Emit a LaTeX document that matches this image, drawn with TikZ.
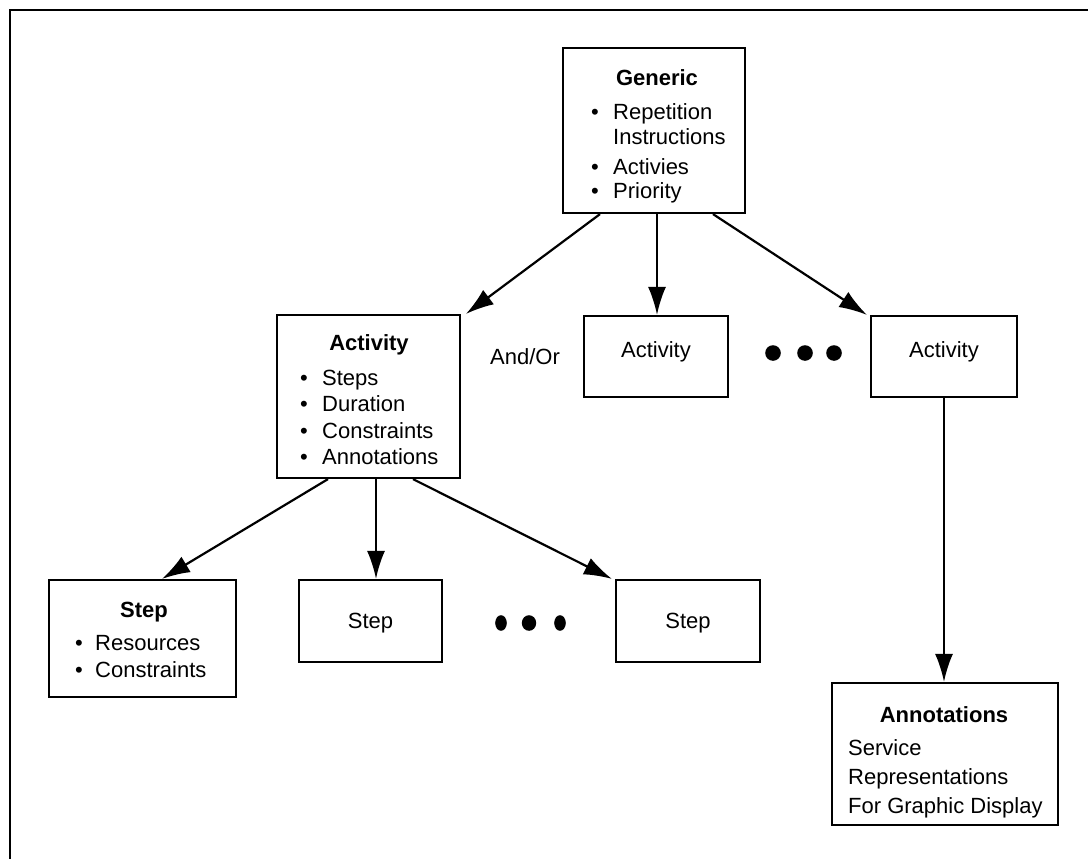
\documentclass[tikz,border=0pt]{standalone}
\usepackage{fontspec}
\setmainfont{Liberation Sans}
\usetikzlibrary{arrows.meta}
\begin{document}
\begin{tikzpicture}[x=1pt,y=-1pt,
  box/.style={draw,line width=2.2pt,inner sep=0pt},
  lbl/.style={inner sep=0pt,anchor=base west,font=\fontsize{22}{26}\selectfont},
  bul/.style={inner sep=0pt,anchor=base,font=\fontsize{22}{26}\selectfont},
  ttl/.style={inner sep=0pt,anchor=base,font=\fontsize{22}{26}\selectfont\bfseries},
  ctr/.style={inner sep=0pt,anchor=center,font=\fontsize{22}{26}\selectfont},
  arr/.style={line width=2.2pt,-{Latex[length=28pt,width=18pt]}},
  frame/.style={line width=2.8pt}
]
\useasboundingbox (0,0) rectangle (1088,859);
\fill[white] (0,0) rectangle (1088,859);
% frame (top and left only visible)
\coordinate (fa) at (10,859);
\coordinate (fb) at (10,10);
\coordinate (fc) at (1088,10);
\draw[frame] (fa) -- (fb) -- (fc);

% boxes
\node[box,minimum width=182pt,minimum height=165pt] (gen) at (654,130.5) {};
\node[box,minimum width=183pt,minimum height=163pt] (act1) at (368.5,396.5) {};
\node[box,minimum width=144pt,minimum height=81pt] (act2) at (656,356.5) {};
\node[box,minimum width=146pt,minimum height=81pt] (act3) at (944,356.5) {};
\node[box,minimum width=187pt,minimum height=117pt] (step1) at (142.5,638.5) {};
\node[box,minimum width=143pt,minimum height=82pt] (step2) at (370.5,621) {};
\node[box,minimum width=144pt,minimum height=82pt] (step3) at (688,621) {};
\node[box,minimum width=226pt,minimum height=142pt] (ann) at (945,754) {};

% Generic text
\node[ttl] (gt) at (657,85) {Generic};
\node[bul] (gb1) at (595,120) {\textbullet};
\node[lbl] (gl1) at (613,120) {Repetition};
\node[lbl] (gl2) at (613,144) {Instructions};
\node[bul] (gb3) at (595,174) {\textbullet};
\node[lbl] (gl3) at (613,174) {Activies};
\node[bul] (gb4) at (595,198) {\textbullet};
\node[lbl] (gl4) at (613,198) {Priority};

% Activity text
\node[ttl] (at) at (369,350) {Activity};
\node[bul] (ab1) at (304,385) {\textbullet};
\node[lbl] (al1) at (322,385) {Steps};
\node[bul] (ab2) at (304,411) {\textbullet};
\node[lbl] (al2) at (322,411) {Duration};
\node[bul] (ab3) at (304,438) {\textbullet};
\node[lbl] (al3) at (322,438) {Constraints};
\node[bul] (ab4) at (304,464) {\textbullet};
\node[lbl] (al4) at (322,464) {Annotations};

\node[ctr] (a2t) at (656,352) {Activity};
\node[ctr] (a3t) at (944,352) {Activity};
\node[lbl] (andor) at (490,364) {And/Or};

% Step text
\node[ttl] (st) at (144,617) {Step};
\node[bul] (sb1) at (79,650) {\textbullet};
\node[lbl] (sl1) at (95,650) {Resources};
\node[bul] (sb2) at (79,677) {\textbullet};
\node[lbl] (sl2) at (95,677) {Constraints};
\node[ctr] (s2t) at (370.5,623) {Step};
\node[ctr] (s3t) at (688,623) {Step};

% Annotations text
\node[ttl] (ant) at (944,722) {Annotations};
\node[lbl] (anl1) at (848,755) {Service};
\node[lbl] (anl2) at (848,784) {Representations};
\node[lbl] (anl3) at (848,813) {For Graphic Display};

% dots
\fill (773,353) circle (7.8pt);
\fill (805,353) circle (7.8pt);
\fill (834,353) circle (7.8pt);
\fill (501,623) ellipse (5.8pt and 7.8pt);
\fill (529,623) ellipse (7.2pt and 7.8pt);
\fill (560,623) ellipse (5.8pt and 7.8pt);

% arrows
\draw[arr] ([xshift=-54pt]gen.south) -- ([xshift=97.5pt]act1.north);
\draw[arr] ([xshift=3pt]gen.south) -- ([xshift=3pt]gen.south |- act2.north);
\draw[arr] ([xshift=59pt]gen.south) -- ([xshift=-3pt]act3.north west);
\draw[arr] (act3.south) -- (act3.south |- ann.north);
\draw[arr] ([xshift=-40.5pt]act1.south) -- ([xshift=19.5pt]step1.north);
\draw[arr] ([xshift=7.5pt]act1.south) -- ([xshift=7.5pt]act1.south |- step2.north);
\draw[arr] ([xshift=44.5pt]act1.south) -- ([xshift=-3pt]step3.north west);
\end{tikzpicture}
\end{document}
